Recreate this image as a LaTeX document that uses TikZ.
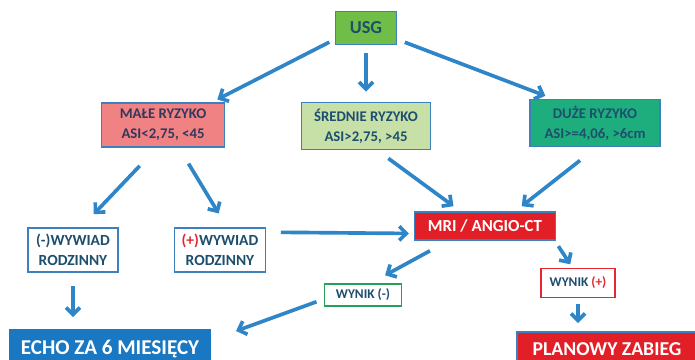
\documentclass[tikz,border=0pt]{standalone}
\usepackage{fontspec}
\setmainfont{Carlito}
\usetikzlibrary{arrows.meta}

\definecolor{arrowblue}{RGB}{46,134,200}
\definecolor{boxblue}{RGB}{60,128,190}
\definecolor{navytext}{RGB}{30,78,110}
\definecolor{usggreen}{RGB}{112,190,72}
\definecolor{lowpink}{RGB}{240,130,132}
\definecolor{midgreen}{RGB}{198,224,168}
\definecolor{highgreen}{RGB}{30,174,126}
\definecolor{mrired}{RGB}{226,30,38}
\definecolor{plusred}{RGB}{226,40,48}
\definecolor{minusgreen}{RGB}{40,160,90}
\definecolor{echoblue}{RGB}{26,120,194}

\begin{document}
\begin{tikzpicture}[x=0.025cm,y=-0.025cm,
                    >={Straight Barb[length=5pt,width=10pt]},
                    arr/.style={->,draw=arrowblue,line width=2.6pt},
                    box/.style={draw=boxblue,line width=1.2pt,align=center,
                      inner sep=0pt,text=navytext,
                      font=\fontsize{10.5}{14}\selectfont\bfseries}]
  \useasboundingbox (0,0) rectangle (695,360);
  \clip (0,0) rectangle (695,360);

  \node[box,fill=usggreen,minimum width=1.525cm,minimum height=0.825cm,
        font=\fontsize{13}{15}\selectfont\bfseries]          (U) at (366,28)  {USG};
  \node[box,fill=lowpink,text={rgb,255:red,50;green,56;blue,92},
        minimum width=3.075cm,minimum height=1.1cm]          (M) at (163,125) {MAŁE RYZYKO\\ASI<2,75, <45};
  \node[box,fill=midgreen,minimum width=3.225cm,minimum height=1.175cm] (S) at (366,126) {ŚREDNIE RYZYKO\\ASI>2,75, >45};
  \node[box,fill=highgreen,minimum width=3.25cm,minimum height=1.175cm] (D) at (595,123) {DUŻE RYZYKO\\ASI>=4,06, >6cm};
  \node[box,fill=white,minimum width=2.25cm,minimum height=1.1cm,
        font=\fontsize{11}{14}\selectfont\bfseries]          (W1) at (73,250)  {(-)WYWIAD\\RODZINNY};
  \node[box,fill=white,minimum width=2.275cm,minimum height=1.1cm,
        font=\fontsize{11}{14}\selectfont\bfseries]          (W2) at (220,250) {\textcolor{plusred}{(+)}WYWIAD\\RODZINNY};
  \node[box,fill=mrired,text=white,minimum width=3.525cm,minimum height=0.7cm,
        font=\fontsize{12}{14}\selectfont\bfseries]          (R) at (485,226) {MRI / ANGIO-CT};
  \node[box,draw=plusred,fill=white,minimum width=1.85cm,minimum height=0.725cm,
        font=\fontsize{9.5}{12}\selectfont\bfseries]         (P) at (578,283) {WYNIK \textcolor{plusred}{(+)}};
  \node[box,draw=minusgreen,fill=white,minimum width=1.925cm,minimum height=0.55cm,
        font=\fontsize{9.5}{12}\selectfont\bfseries]         (N) at (363,295) {WYNIK (-)};
  \node[box,draw=echoblue,fill=echoblue,text=white,minimum width=5cm,minimum height=0.95cm,
        font=\fontsize{15}{17}\selectfont\bfseries]          (E) at (110,349) {ECHO ZA 6 MIESIĘCY};
  \node[box,fill=mrired,text=white,minimum width=4.5cm,minimum height=0.85cm,
        font=\fontsize{14}{16}\selectfont\bfseries]          (Z) at (607,349) {PLANOWY ZABIEG};

  \path[every edge/.append style={arr}]
             (U.200) edge[shorten <=0.15cm,shorten >=0.15cm] (M.25)
             (U.south) edge[shorten <=0.2cm,shorten >=0.25cm] (S.north)
             (U.340) edge[shorten <=0.2cm,shorten >=0.2cm] (D.150)
        (M.255) edge[shorten <=0.62cm,shorten >=0.45cm] (W1.70)
        (M.305) edge[shorten <=0.46cm,shorten >=0.4cm] (W2.73)
        (S.295) edge[shorten <=0.34cm,shorten >=0.21cm] (R.149)
        (D.274) edge[shorten <=0.53cm,shorten >=0.2cm] (R.26)
        (W2.21) edge[shorten <=0.36cm,shorten >=0.12cm] (R.186)
        (R.202) edge[shorten <=0.52cm,shorten >=0.41cm] (N.57)
        (R.348) edge[shorten <=0.16cm,shorten >=0.1cm] (P.110)
        (W1.south) edge[shorten <=0.33cm,shorten >=0.3cm] (W1.south |- E.north)
        (N.186) edge[shorten <=0.19cm,shorten >=0.67cm] (E.5)
        (P.south) edge[shorten <=0.15cm,shorten >=0.2cm] (P.south |- Z.north);
\end{tikzpicture}
\end{document}
